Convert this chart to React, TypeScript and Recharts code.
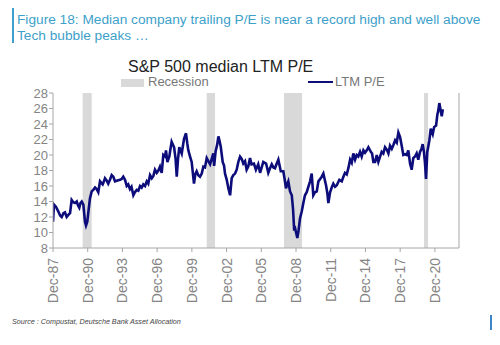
import { LineChart, Line, XAxis, YAxis, ReferenceArea } from "recharts";

// decimal years (Dec-87 = 1987.917)
const months = [
  1987.92, 1988.0, 1988.18, 1988.38, 1988.53, 1988.67, 1988.82, 1988.95, 1989.1, 1989.26,
  1989.39, 1989.53, 1989.67, 1989.82, 1989.97, 1990.08, 1990.19, 1990.29, 1990.4, 1990.54,
  1990.68, 1990.77, 1990.88, 1990.97, 1991.11, 1991.26, 1991.4, 1991.55, 1991.69, 1991.83,
  1991.98, 1992.09, 1992.21, 1992.32, 1992.41, 1992.56, 1992.69, 1992.84, 1992.99, 1993.13,
  1993.28, 1993.49, 1993.71, 1993.85, 1993.99, 1994.14, 1994.29, 1994.42, 1994.57, 1994.7,
  1994.86, 1995.0, 1995.15, 1995.29, 1995.44, 1995.58, 1995.72, 1995.87, 1996.02, 1996.15,
  1996.3, 1996.45, 1996.59, 1996.73, 1996.88, 1997.02, 1997.16, 1997.31, 1997.45, 1997.6,
  1997.68, 1997.8, 1997.97, 1998.07, 1998.17, 1998.38, 1998.51, 1998.61, 1998.72, 1998.83,
  1999.04, 1999.24, 1999.41, 1999.52, 1999.61, 1999.76, 1999.9, 2000.1, 2000.21, 2000.33,
  2000.47, 2000.62, 2000.77, 2000.91, 2001.05, 2001.2, 2001.34, 2001.49, 2001.63, 2001.77,
  2001.84, 2001.97, 2002.1, 2002.21, 2002.31, 2002.41, 2002.58, 2002.7, 2002.78, 2002.93,
  2003.07, 2003.22, 2003.36, 2003.5, 2003.65, 2003.79, 2003.93, 2004.08, 2004.22, 2004.36,
  2004.51, 2004.65, 2004.79, 2004.94, 2005.07, 2005.28, 2005.45, 2005.65, 2005.81, 2005.95,
  2006.09, 2006.33, 2006.52, 2006.67, 2006.82, 2006.96, 2007.1, 2007.25, 2007.39, 2007.6,
  2007.82, 2007.94, 2008.05, 2008.17, 2008.25, 2008.4, 2008.55, 2008.66, 2008.75, 2008.83,
  2008.92, 2009.03, 2009.13, 2009.26, 2009.41, 2009.55, 2009.69, 2009.84, 2009.98, 2010.13,
  2010.27, 2010.41, 2010.56, 2010.71, 2010.85, 2011.0, 2011.14, 2011.28, 2011.4, 2011.51,
  2011.63, 2011.71, 2011.86, 2012.0, 2012.14, 2012.29, 2012.44, 2012.66, 2012.87, 2013.01,
  2013.15, 2013.3, 2013.44, 2013.59, 2013.73, 2013.87, 2014.02, 2014.16, 2014.3, 2014.45,
  2014.59, 2014.74, 2014.88, 2015.03, 2015.17, 2015.38, 2015.49, 2015.6, 2015.75, 2015.89,
  2016.03, 2016.18, 2016.32, 2016.46, 2016.61, 2016.76, 2016.9, 2017.04, 2017.19, 2017.33,
  2017.48, 2017.62, 2017.76, 2017.91, 2018.05, 2018.19, 2018.34, 2018.48, 2018.62, 2018.77,
  2018.91, 2019.05, 2019.2, 2019.34, 2019.48, 2019.63, 2019.76, 2019.86, 2019.97, 2020.06,
  2020.15, 2020.26, 2020.44, 2020.56, 2020.73, 2020.85, 2021.02, 2021.13, 2021.22, 2021.3,
  2021.42, 2021.51, 2021.6,
];

const ltmPE = [
  11.4, 13.6, 13.3, 12.7, 12.2, 12.0, 12.5, 12.6, 12.0, 12.3,
  12.5, 14.2, 13.9, 13.8, 14.0, 13.5, 13.2, 13.8, 14.0, 13.6,
  11.4, 10.9, 11.4, 12.6, 14.4, 15.3, 15.5, 15.8, 15.6, 15.2,
  16.6, 16.4, 16.2, 16.6, 17.0, 16.7, 16.3, 16.8, 17.4, 17.2,
  16.6, 16.7, 16.8, 16.9, 17.2, 16.8, 16.0, 16.2, 15.6, 15.9,
  14.8, 15.2, 15.5, 15.4, 16.0, 15.8, 16.2, 16.0, 16.6, 16.3,
  17.4, 17.0, 17.3, 18.1, 17.7, 18.0, 18.5, 17.7, 20.0, 19.8,
  20.6, 19.1, 19.8, 20.8, 21.7, 21.0, 19.5, 17.2, 19.5, 21.0,
  20.2, 22.1, 22.8, 21.5, 20.6, 19.8, 19.1, 16.3, 17.5, 17.9,
  17.4, 17.2, 17.6, 18.5, 18.4, 19.6, 19.2, 18.8, 19.5, 20.2,
  18.6, 20.5, 21.3, 22.4, 21.8, 21.1, 19.1, 18.6, 17.6, 16.8,
  15.7, 14.8, 17.0, 17.4, 17.6, 18.1, 19.1, 19.8, 19.5, 18.9,
  19.2, 18.1, 18.5, 19.6, 18.8, 18.9, 18.1, 18.8, 17.7, 18.4,
  19.1, 18.9, 17.7, 18.3, 18.8, 18.4, 18.3, 18.9, 19.4, 17.9,
  17.9, 16.8, 15.7, 16.3, 16.6, 15.3, 14.8, 13.0, 10.5, 10.6,
  10.0, 9.3, 10.2, 11.8, 12.7, 13.8, 14.8, 15.2, 15.9, 16.6,
  17.6, 14.8, 15.2, 15.3, 16.6, 16.9, 17.2, 17.6, 16.8, 16.1,
  15.0, 13.8, 15.2, 15.8, 16.3, 15.9, 16.1, 16.8, 16.6, 17.2,
  17.7, 17.5, 18.3, 19.4, 19.0, 20.2, 19.4, 20.0, 19.8, 20.4,
  19.8, 20.6, 20.3, 20.6, 21.0, 20.4, 20.2, 19.1, 19.1, 20.0,
  19.1, 19.8, 20.4, 20.2, 21.0, 20.7, 20.2, 21.2, 20.8, 21.3,
  21.9, 21.6, 22.9, 22.3, 21.2, 20.0, 20.1, 20.0, 20.6, 18.9,
  18.1, 19.6, 19.8, 20.2, 19.4, 20.4, 20.8, 21.4, 20.4, 19.0,
  16.9, 20.4, 21.9, 23.4, 22.7, 23.6, 23.8, 25.2, 25.8, 26.7,
  25.7, 25.0, 25.9,
];

const recessionStart = [1990.48, 2001.2, 2007.88, 2019.98];
const recessionEnd = [1991.26, 2001.92, 2009.44, 2020.33];

const xTicks = [1987.917, 1990.917, 1993.917, 1996.917, 1999.917, 2002.917, 2005.917, 2008.917, 2011.917, 2014.917, 2017.917, 2020.917];
const xTickLabels = ["Dec-87", "Dec-90", "Dec-93", "Dec-96", "Dec-99", "Dec-02", "Dec-05", "Dec-08", "Dec-11", "Dec-14", "Dec-17", "Dec-20"];
const yTicks = [8, 10, 12, 14, 16, 18, 20, 22, 24, 26, 28];

const data = months.map((t, i) => ({ t, pe: ltmPE[i] }));

const FONT = '"Liberation Sans", Arial, sans-serif';
const AXIS = "#a6a6a6";
const TICK_TEXT = "#858585";
const NAVY = "#0c0c7a";
const CAPTION = "#3d9fca";

function DateTick({ x, y, payload }: any) {
  let idx = 0;
  xTicks.forEach((v, i) => {
    if (Math.abs(v - payload.value) < Math.abs(xTicks[idx] - payload.value)) idx = i;
  });
  return (
    <text
      x={x}
      y={y}
      transform={`rotate(-90 ${x} ${y})`}
      textAnchor="end"
      dominantBaseline="central"
      fill={TICK_TEXT}
      fontSize={14}
      fontFamily={FONT}
    >
      {xTickLabels[idx]}
    </text>
  );
}

export default function App() {
  return (
    <div
      style={{
        position: "relative",
        width: 500,
        height: 345,
        margin: -8,
        background: "#fff",
        fontFamily: FONT,
        overflow: "hidden",
      }}
    >
      <LineChart
        width={500}
        height={345}
        data={data}
        margin={{ top: 93, right: 0, bottom: 37, left: 0 }}
        style={{ position: "absolute", left: 0, top: 0 }}
      >
        {recessionStart.map((s, i) => (
          <ReferenceArea
            key={s}
            yAxisId="left"
            x1={s}
            x2={recessionEnd[i]}
            y1={8}
            y2={28}
            fill="#d9d9d9"
            fillOpacity={1}
            stroke="none"
          />
        ))}
        <XAxis
          dataKey="t"
          type="number"
          domain={[1987.917, 2023]}
          ticks={xTicks}
          allowDataOverflow
          height={60}
          tickSize={4}
          tickMargin={6}
          stroke={AXIS}
          tick={<DateTick />}
          interval={0}
        />
        <YAxis
          yAxisId="left"
          domain={[8, 28]}
          ticks={yTicks}
          width={53}
          tickSize={4}
          tickMargin={1}
          stroke={AXIS}
          tick={{ fill: TICK_TEXT, fontSize: 13, fontFamily: FONT }}
          interval={0}
        />
        <YAxis
          yAxisId="right"
          orientation="right"
          domain={[8, 28]}
          ticks={yTicks}
          width={41}
          tickSize={4}
          tickMargin={8}
          stroke={AXIS}
          tick={{ fill: TICK_TEXT, fontSize: 13, fontFamily: FONT, textAnchor: "start" }}
          interval={0}
        />
        <Line
          yAxisId="left"
          dataKey="pe"
          type="linear"
          stroke={NAVY}
          strokeWidth={2.6}
          dot={false}
          isAnimationActive={false}
        />
      </LineChart>

      {/* frame bits */}
      <div style={{ position: "absolute", left: 12, top: 4, width: 478, height: 2, background: "#6cc0dc" }} />
      <div style={{ position: "absolute", left: 12, top: 5, width: 2, height: 38, background: "#3d9fca" }} />
      <div style={{ position: "absolute", left: 490, top: 315, width: 2, height: 15, background: "#3f86c8" }} />

      <div
        style={{
          position: "absolute",
          left: 17,
          top: 12,
          fontSize: 13.7,
          lineHeight: "16px",
          color: CAPTION,
          whiteSpace: "nowrap",
        }}
      >
        Figure 18: Median company trailing P/E is near a record high and well above
        <br />
        Tech bubble peaks …
      </div>

      <div style={{ position: "absolute", left: 128, top: 59, fontSize: 16, lineHeight: "16px", color: "#222", whiteSpace: "nowrap" }}>
        S&amp;P 500 median LTM P/E
      </div>

      {/* legend */}
      <div style={{ position: "absolute", left: 121, top: 79, width: 23, height: 8, background: "#d9d9d9" }} />
      <div style={{ position: "absolute", left: 148, top: 75, fontSize: 13, lineHeight: "13px", color: "#777", whiteSpace: "nowrap" }}>
        Recession
      </div>
      <div style={{ position: "absolute", left: 308, top: 80.5, width: 25, height: 2.5, background: NAVY }} />
      <div style={{ position: "absolute", left: 335, top: 75, fontSize: 13, lineHeight: "13px", color: "#777", whiteSpace: "nowrap" }}>
        LTM P/E
      </div>

      <div
        style={{
          position: "absolute",
          left: 12,
          top: 318,
          fontSize: 7.2,
          lineHeight: "8px",
          fontStyle: "italic",
          color: "#444",
          whiteSpace: "nowrap",
        }}
      >
        Source : Compustat, Deutsche Bank Asset Allocation
      </div>
    </div>
  );
}
